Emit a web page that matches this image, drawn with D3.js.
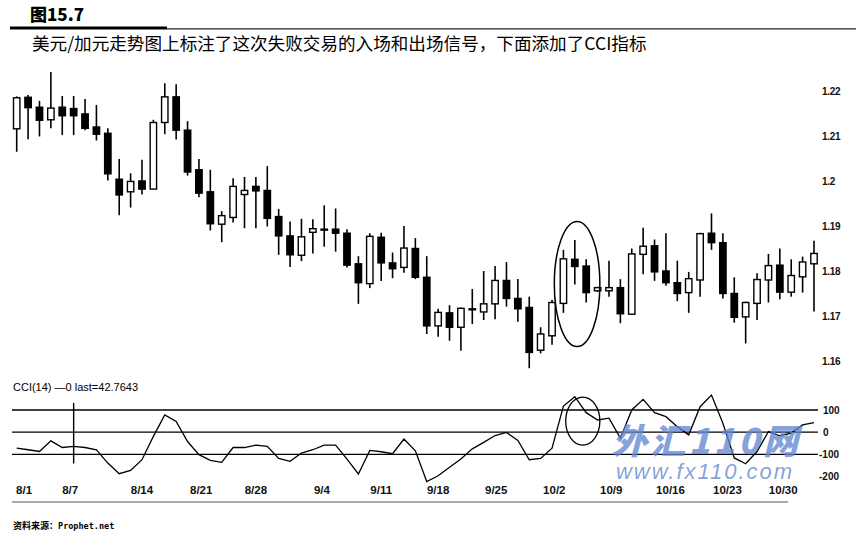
<!DOCTYPE html>
<html><head><meta charset="utf-8">
<script src="https://cdn.jsdelivr.net/npm/d3@7"></script>
<style>body{margin:0;background:#fff} svg{display:block}</style>
</head><body>
<svg id="c" width="856" height="535"></svg>
<script>
// ---- data (USD/CAD daily, Aug 1 – Nov 2) ----
const opens  = [1.2116,1.2186,1.2164,1.2136,1.2164,1.2161,1.2149,1.2120,1.2106,1.2004,1.1976,1.2000,1.1982,1.2130,1.2187,1.2113,1.2025,1.1976,1.1904,1.1919,1.1970,1.1988,1.1979,1.1921,1.1878,1.1835,1.1886,1.1893,1.1893,1.1884,1.1816,1.1772,1.1875,1.1818,1.1808,1.1850,1.1786,1.1678,1.1707,1.1675,1.1716,1.1709,1.1727,1.1779,1.1739,1.1719,1.1624,1.1656,1.1728,1.1826,1.1811,1.1756,1.1756,1.1763,1.1704,1.1837,1.1856,1.1800,1.1774,1.1752,1.1780,1.1884,1.1863,1.1750,1.1698,1.1728,1.1780,1.1813,1.1753,1.1787,1.1816];
const highs  = [1.2188,1.2191,1.2178,1.2242,1.2189,1.2189,1.2182,1.2169,1.2117,1.2049,1.2017,1.2047,1.2136,1.2217,1.2215,1.2133,1.2049,1.2025,1.1933,1.2006,1.2009,1.2009,1.2033,1.1938,1.1910,1.1916,1.1915,1.1946,1.1939,1.1893,1.1833,1.1884,1.1885,1.1841,1.1900,1.1873,1.1833,1.1716,1.1724,1.1719,1.1760,1.1800,1.1811,1.1820,1.1782,1.1743,1.1675,1.1736,1.1847,1.1869,1.1826,1.1765,1.1823,1.1782,1.1850,1.1896,1.1870,1.1884,1.1823,1.1798,1.1885,1.1928,1.1884,1.1786,1.1732,1.1795,1.1838,1.1850,1.1826,1.1832,1.1867];
const lows   = [1.2065,1.2093,1.2099,1.2117,1.2102,1.2102,1.2113,1.2090,1.2001,1.1924,1.1941,1.1970,1.1982,1.2104,1.2092,1.2012,1.1964,1.1890,1.1864,1.1908,1.1895,1.1895,1.1899,1.1836,1.1809,1.1822,1.1839,1.1854,1.1843,1.1808,1.1727,1.1762,1.1778,1.1784,1.1796,1.1782,1.1660,1.1654,1.1645,1.1623,1.1682,1.1691,1.1693,1.1721,1.1687,1.1584,1.1617,1.1636,1.1707,1.1770,1.1730,1.1754,1.1743,1.1684,1.1704,1.1793,1.1778,1.1767,1.1733,1.1707,1.1743,1.1847,1.1739,1.1685,1.1639,1.1691,1.1730,1.1737,1.1743,1.1752,1.1710];
const closes = [1.2185,1.2163,1.2135,1.2162,1.2145,1.2145,1.2117,1.2104,1.2016,1.1969,1.1999,1.1982,1.2130,1.2187,1.2113,1.2020,1.1973,1.1905,1.1923,1.1988,1.1979,1.1978,1.1917,1.1878,1.1836,1.1876,1.1894,1.1893,1.1884,1.1813,1.1774,1.1877,1.1818,1.1805,1.1851,1.1786,1.1678,1.1708,1.1675,1.1717,1.1716,1.1727,1.1779,1.1739,1.1716,1.1619,1.1660,1.1730,1.1827,1.1810,1.1752,1.1763,1.1763,1.1705,1.1838,1.1855,1.1798,1.1774,1.1750,1.1783,1.1883,1.1863,1.1750,1.1697,1.1730,1.1781,1.1812,1.1753,1.1790,1.1820,1.1839];
const cci    = [-72,-79,-87,-39,-69,-64,-69,-79,-139,-187,-172,-124,-19,78,48,-42,-101,-127,-136,-69,-69,-58,-64,-118,-131,-94,-79,-58,-58,-121,-188,-82,-88,-97,-31,-84,-222,-196,-158,-121,-75,-46,-15,-1,-37,-124,-118,-72,118,160,88,55,63,-27,100,148,88,70,25,-12,115,167,40,-116,-142,-87,3,-16,-4,33,43];
const priceTicks = [1.22,1.21,1.2,1.19,1.18,1.17,1.16];
const cciLevels  = [100,0,-100];
const cciTicks   = [100,0,-100,-200];
const dateLabels = ["8/1","8/7","8/14","8/21","8/28","9/4","9/11","9/18","9/25","10/2","10/9","10/16","10/23","10/30"];
const datePos    = [0.65,4.7,11.0,16.2,21.0,26.8,32.0,37.0,42.1,47.2,52.2,57.4,62.4,67.3];
const entryIdx = 5;               // vertical marker in CCI panel
const markPriceIdx = 49.2, markPrice = 1.1771, markPriceRx = 2.0, markPriceRy = 0.0139;
const markCciIdx = 49.7, markCci = 50, markCciRx = 1.5, markCciRy = 108;

const titleText = "图15.7";
const subtitleText = "美元/加元走势图上标注了这次失败交易的入场和出场信号，下面添加了CCI指标";
const cciLabel = "CCI(14) —0 last=42.7643";
const sourceCn = "资料来源：", sourceEn = "Prophet.net";

const svg = d3.select("#c");
svg.append("rect").attr("width",856).attr("height",535).attr("fill","#fff");

const n = opens.length;
const x  = d3.scaleLinear().domain([0, n-1]).range([16.7, 814]);
const y  = d3.scaleLinear().domain([1.16, 1.22]).range([361, 91]);
const yc = d3.scaleLinear().domain([-200, 100]).range([476.6, 410]);

const LAT = "'Liberation Sans', Arial, sans-serif";
const CJK = "'Noto Sans CJK SC', sans-serif";

// header
svg.append("text").attr("x",30).attr("y",21).attr("font-family",CJK).attr("font-weight",900)
  .attr("font-size",17).attr("fill","#000").text(titleText);
svg.append("line").attr("x1",10).attr("x2",167).attr("y1",28).attr("y2",28).attr("stroke","#000").attr("stroke-width",3);
svg.append("line").attr("x1",167).attr("x2",856).attr("y1",28.8).attr("y2",28.8).attr("stroke","#222").attr("stroke-width",1.2);
svg.append("text").attr("x",32).attr("y",50).attr("font-family",CJK).attr("font-size",17.6)
  .attr("fill","#000").text(subtitleText);

// candles
const data = d3.range(n).map(i => ({i, o:opens[i], h:highs[i], l:lows[i], c:closes[i]}));
const g = svg.append("g");
g.selectAll("line.wick").data(data).join("line").attr("class","wick")
  .attr("x1", d=>x(d.i)).attr("x2", d=>x(d.i))
  .attr("y1", d=>y(d.h)).attr("y2", d=>y(d.l))
  .attr("stroke","#000").attr("stroke-width",1.6);
const bw = 6.4;
g.selectAll("rect.body").data(data).join("rect").attr("class","body")
  .attr("x", d=>x(d.i)-bw/2)
  .attr("y", d=>y(Math.max(d.o,d.c)))
  .attr("width", bw)
  .attr("height", d=>Math.max(1, Math.abs(y(d.o)-y(d.c))))
  .attr("fill", d=> d.c>=d.o ? "#fff" : "#000")
  .attr("stroke","#000").attr("stroke-width",1.4);

// price labels
svg.selectAll("text.pt").data(priceTicks).join("text").attr("class","pt")
  .attr("x",822).attr("y",d=>y(d)).attr("dy","0.35em")
  .attr("font-family",LAT).attr("font-weight","bold").attr("font-size",10).attr("letter-spacing",-0.3)
  .attr("fill","#111").text(d=>String(d));

// ellipse on price chart
svg.append("ellipse").attr("cx",x(markPriceIdx)).attr("cy",y(markPrice))
  .attr("rx",x(markPriceIdx+markPriceRx)-x(markPriceIdx))
  .attr("ry",y(markPrice-markPriceRy)-y(markPrice))
  .attr("fill","none").attr("stroke","#000").attr("stroke-width",1.5);

// CCI panel
svg.append("text").attr("x",13).attr("y",391).attr("font-family",LAT).attr("font-size",11)
  .attr("fill","#000").text(cciLabel);
svg.selectAll("line.lvl").data(cciLevels).join("line").attr("class","lvl")
  .attr("x1",12).attr("x2",818).attr("y1",d=>yc(d)).attr("y2",d=>yc(d))
  .attr("stroke","#000").attr("stroke-width",1.3);
svg.selectAll("text.ct").data(cciTicks).join("text").attr("class","ct")
  .attr("x",d=> d<0 ? 819 : 823).attr("y",d=>yc(d)).attr("dy","0.35em")
  .attr("font-family",LAT).attr("font-weight","bold").attr("font-size",10)
  .attr("fill","#111").text(d=>String(d));
svg.append("line").attr("x1",x(entryIdx)).attr("x2",x(entryIdx))
  .attr("y1",yc(132)).attr("y2",yc(-141)).attr("stroke","#000").attr("stroke-width",1.4);
svg.append("path").datum(cci)
  .attr("d", d3.line().x((d,i)=>x(i)).y(d=>yc(d)))
  .attr("fill","none").attr("stroke","#000").attr("stroke-width",1.3);
svg.append("ellipse").attr("cx",x(markCciIdx)).attr("cy",yc(markCci))
  .attr("rx",x(markCciIdx+markCciRx)-x(markCciIdx))
  .attr("ry",yc(markCci-markCciRy)-yc(markCci))
  .attr("fill","none").attr("stroke","#000").attr("stroke-width",1.3);

// date labels
svg.selectAll("text.dt").data(dateLabels).join("text").attr("class","dt")
  .attr("x",(d,i)=>x(datePos[i])).attr("y",494).attr("text-anchor","middle")
  .attr("font-family",LAT).attr("font-weight","bold").attr("font-size",11.5)
  .attr("fill","#111").text(d=>d);
svg.append("line").attr("x1",12).attr("x2",788).attr("y1",502).attr("y2",502)
  .attr("stroke","#555").attr("stroke-width",1);

// source
svg.append("text").attr("x",13).attr("y",529).attr("font-size",9).attr("font-weight","bold")
  .attr("fill","#000")
  .call(t=>{ t.append("tspan").attr("font-family",CJK).text(sourceCn);
             t.append("tspan").attr("font-family","'DejaVu Sans Mono', monospace").attr("font-size",8.5).text(sourceEn); });

// watermark
svg.append("text").attr("x",612).attr("y",454).attr("font-family",CJK).attr("font-weight",900)
  .attr("font-style","italic").attr("font-size",35).attr("fill","#6388d2").attr("fill-opacity",0.78)
  .attr("textLength",186).text("外汇110网");
svg.append("text").attr("x",616).attr("y",479).attr("font-family",LAT)
  .attr("font-style","italic").attr("font-size",22).attr("fill","#6388d2").attr("fill-opacity",0.78)
  .attr("textLength",176).text("www.fx110.com");
</script>
</body></html>
